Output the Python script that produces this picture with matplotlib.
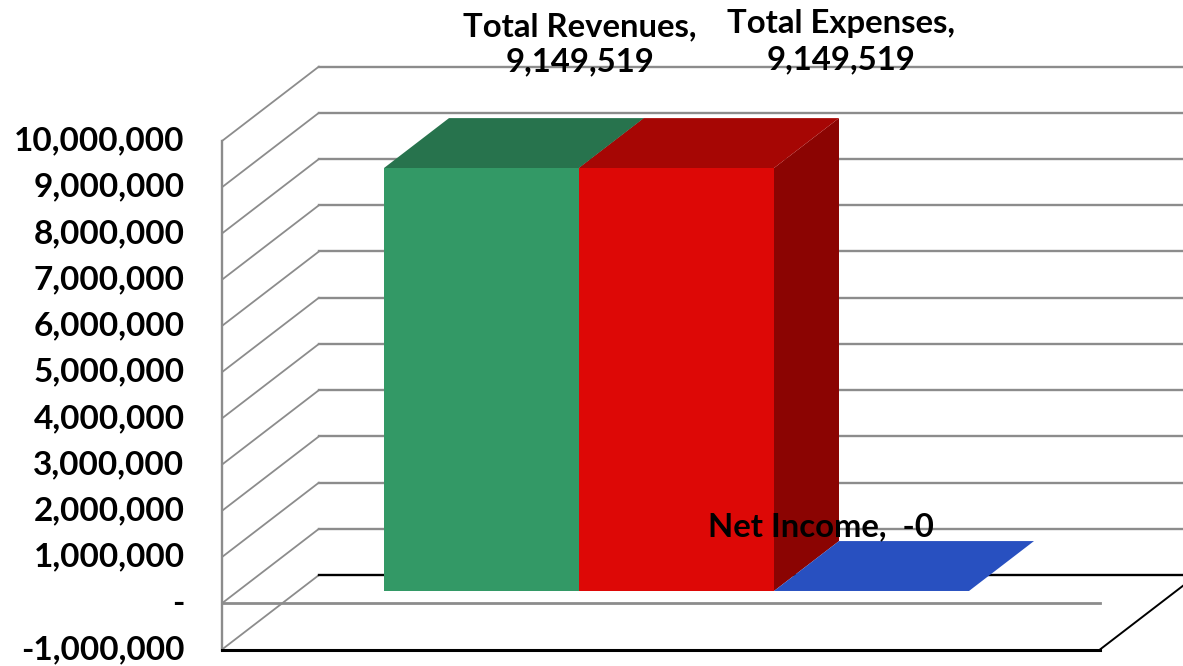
import matplotlib
matplotlib.use("Agg")
import matplotlib.pyplot as plt
from matplotlib.patches import Polygon
from matplotlib.transforms import ScaledTranslation

categories = ["Total Revenues", "Total Expenses", "Net Income"]
values = [9149519, 9149519, 0]
value_labels = ["9,149,519", "9,149,519", "-0"]
tick_values = [-1000000, 0, 1000000, 2000000, 3000000, 4000000, 5000000,
               6000000, 7000000, 8000000, 9000000, 10000000]
tick_labels = ["-1,000,000", "-", "1,000,000", "2,000,000", "3,000,000", "4,000,000",
               "5,000,000", "6,000,000", "7,000,000", "8,000,000", "9,000,000", "10,000,000"]

W, H = 1183, 666
FONT = "Lato"
GRAY = "#8c8c8c"
front_colors = ["#339966", "#DD0806", "#2850C0"]
top_colors = ["#27734D", "#A60604", "#2850C0"]
side_colors = ["#1F5C3D", "#8B0402", "#1E3C90"]

fig = plt.figure(figsize=(W / 100, H / 100), dpi=100)
L, R, T, B = 222, 1100, 141, 649.5
ax = fig.add_axes([L / W, 1 - B / H, (R - L) / W, (B - T) / H])
ax.set_facecolor("none")
XMIN = -0.7487
XMAX = XMIN + (R - L) / 195
ax.set_xlim(XMIN, XMAX)
ax.set_ylim(-1000000, 10000000)
PX_X = (XMAX - XMIN) / (R - L)
PX_Y = 11000000 / (B - T)
DEPTH_X, DEPTH_Y = 97 * PX_X, 74.5 * PX_Y
BAR_D0, BAR_D1 = 0.165, 0.835


def proj(x, v, d):
    return x + d * DEPTH_X, v + d * DEPTH_Y


# walls and gridlines
for v in tick_values:
    color = "black" if v == tick_values[0] else GRAY
    x0, x1 = XMIN, XMAX
    p = [proj(x0, v, 0), proj(x0, v, 1), proj(x1 + 1, v, 1)]
    ax.plot(*zip(*p[:2]), color=GRAY, lw=1.3, clip_on=False, zorder=1,
            solid_capstyle="round")
    ax.plot(*zip(*p[1:]), color=color, lw=1.7, clip_on=False, zorder=1)
ax.plot([XMIN, XMIN], [tick_values[0], tick_values[-1]], color=GRAY, lw=1.7,
        clip_on=False, zorder=2)
ax.plot([XMIN, XMAX], [0, 0], color=GRAY, lw=2, clip_on=False, zorder=2)
ax.plot([XMIN, XMAX], [tick_values[0]] * 2, color="black", lw=2.2, clip_on=False, zorder=2)
ax.plot(*zip(proj(XMAX, tick_values[0], 0), proj(XMAX, tick_values[0], 1)),
        color="black", lw=1.4, clip_on=False, zorder=2)

# bars
for i, v in enumerate(values):
    z = 3 + i
    fx, fy = proj(i, 0, BAR_D0)
    ax.bar(fx, v, width=1, bottom=fy, align="edge", color=front_colors[i],
           linewidth=0, clip_on=False, zorder=z + 0.2)
    top = [proj(i, v, BAR_D0), proj(i + 1, v, BAR_D0),
           proj(i + 1, v, BAR_D1), proj(i, v, BAR_D1)]
    ax.add_patch(Polygon(top, closed=True, fc=top_colors[i], lw=0, clip_on=False, zorder=z + 0.1))
    side = [proj(i + 1, 0, BAR_D0), proj(i + 1, v, BAR_D0),
            proj(i + 1, v, BAR_D1), proj(i + 1, 0, BAR_D1)]
    ax.add_patch(Polygon(side, closed=True, fc=side_colors[i], lw=0, clip_on=False, zorder=z))

# data labels
LBL = 23.7
label_pos = [(580, 27, 62), (841, 24, 60)]
for i in range(2):
    px, y1, y2 = label_pos[i]
    fig.text(px / W, 1 - y1 / H, categories[i] + ",", ha="center", va="center",
             fontsize=LBL, family=FONT, fontweight="bold", color="black", zorder=10)
    fig.text(px / W, 1 - y2 / H, value_labels[i], ha="center", va="center",
             fontsize=LBL, family=FONT, fontweight="bold", color="black", zorder=10)
fig.text(821 / W, 1 - 527 / H, categories[2] + ",  " + value_labels[2], ha="center", va="center",
         fontsize=LBL, family=FONT, fontweight="bold", color="black", zorder=10)

# axes
ax.set_yticks(tick_values)
ax.set_yticklabels(tick_labels, family=FONT, fontweight="bold", fontsize=24)
ax.tick_params(axis="y", length=0, pad=27)
lift = ScaledTranslation(0, 2.5 / 100, fig.dpi_scale_trans)
for lab in ax.get_yticklabels():
    lab.set_transform(lab.get_transform() + lift)
ax.set_xticks([])
for s in ax.spines.values():
    s.set_visible(False)

fig.savefig("out.png", dpi=100)
